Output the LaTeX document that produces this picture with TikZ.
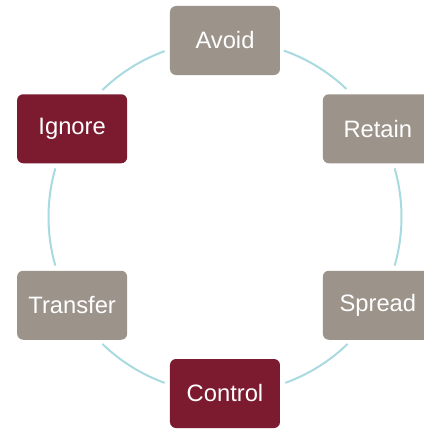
\documentclass[tikz,border=0pt]{standalone}
\usepackage{fontspec}
\setmainfont{Liberation Sans}
\definecolor{stein}{RGB}{156,147,139}
\definecolor{wein}{RGB}{124,27,48}
\definecolor{kreis}{RGB}{168,218,224}

\begin{document}
\begin{tikzpicture}[%show background rectangle,
        x=0.75pt, y=0.75pt,
        box/.style={rounded corners=4.5pt, minimum width=82.5pt,
            minimum height=51.75pt, inner sep=0pt, text=white,
            font=\fontsize{17.8}{20}\selectfont},
        grau/.style={box, fill=stein},
        rot/.style={box, fill=wein},
        ring/.style={draw=kreis, line width=1.5pt}
        ]
            \useasboundingbox (-225,-212) rectangle (199,217);
            \coordinate (M) at (0,0);

            % Verbindungen (Kreisboegen)
            \draw[ring] ([shift={(70.5:176.5)}]M) arc[start angle=70.5, end angle=46.5, radius=176.5];
            \draw[ring] ([shift={(16:176.5)}]M) arc[start angle=16, end angle=-16, radius=176.5];
            \draw[ring] ([shift={(-46:176.5)}]M) arc[start angle=-46, end angle=-70, radius=176.5];
            \draw[ring] ([shift={(-110:176.5)}]M) arc[start angle=-110, end angle=-134, radius=176.5];
            \draw[ring] ([shift={(-164:176.5)}]M) arc[start angle=-164, end angle=-196, radius=176.5];
            \draw[ring] ([shift={(134:176.5)}]M) arc[start angle=134, end angle=110, radius=176.5];

            % Felder
            \node[grau] (avoid)    at ([shift={(90:176.5)}]M)   {Avoid};
            \node[grau] (retain)   at ([shift={(30:176.5)}]M)   {Retain};
            \node[grau] (spread)   at ([shift={(-30:176.5)}]M)  {Spread};
            \node[rot]  (control)  at ([shift={(-90:176.5)}]M)  {Control};
            \node[grau] (transfer) at ([shift={(-150:176.5)}]M) {Transfer};
            \node[rot]  (ignore)   at ([shift={(150:176.5)}]M)  {Ignore};

        \end{tikzpicture}
\end{document}
